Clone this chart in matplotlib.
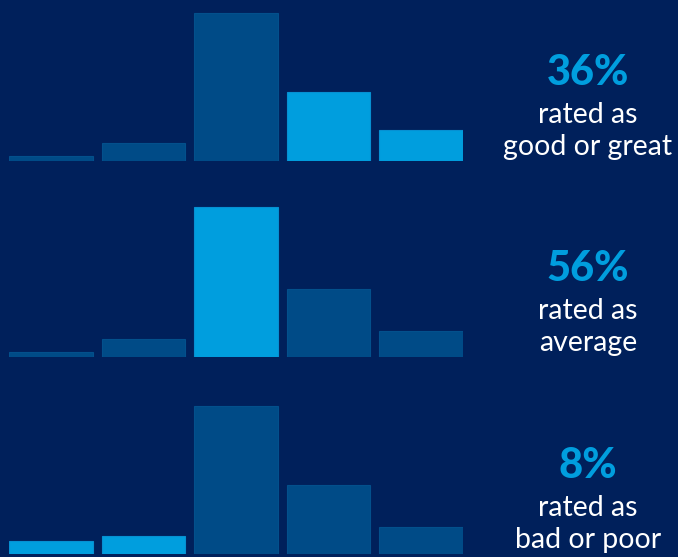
import matplotlib
matplotlib.use("Agg")
import matplotlib.pyplot as plt

# ratings 1..5, share of responses (%) per question
ratings = [1, 2, 3, 4, 5]
good_vals = [2.0, 6.8, 54.7, 25.6, 11.5]
avg_vals = [1.9, 6.8, 55.8, 25.3, 9.7]
bad_vals = [4.8, 6.7, 54.8, 25.3, 9.8]

# which bars are highlighted in each row
good_hl = [False, False, False, True, True]
avg_hl = [False, False, True, False, False]
bad_hl = [True, True, False, False, False]

pct_labels = ["36%", "56%", "8%"]
sub_labels = ["rated as\ngood or great", "rated as\naverage", "rated as\nbad or poor"]

BG = "#00205b"
DARK = "#004b87"
LIGHT = "#009ede"

W, H = 678, 557
fig = plt.figure(figsize=(W / 100, H / 100), dpi=100, facecolor=BG)

rows = [(good_vals, good_hl), (avg_vals, avg_hl), (bad_vals, bad_hl)]
baselines = [161, 357.3, 553.7]   # pixel y of each row's baseline
ax_h = 160                        # pixel height of each axes
px_per_pct = 2.7

for i, (vals, hl) in enumerate(rows):
    base = baselines[i]
    ax = fig.add_axes([9 / W, (H - base) / H, 454 / W, ax_h / H])
    ax.set_facecolor(BG)
    colors = [LIGHT if h else DARK for h in hl]
    edges = ["#0690d2" if h else "#03508c" for h in hl]
    ax.bar(range(len(ratings)), vals, width=0.905, color=colors,
           edgecolor=edges, linewidth=0.8)
    ax.set_xlim(-0.4525, 4.4525)
    ax.set_ylim(0, ax_h / px_per_pct)
    ax.axis("off")

    cx = 588 / W
    fig.text(cx, (H - (base - 76)) / H, pct_labels[i], color=LIGHT,
             fontsize=30, fontweight="black", family="Lato",
             ha="center", va="baseline")
    line1, line2 = sub_labels[i].split("\n")
    fig.text(cx, (H - (base - 38)) / H, line1, color="white",
             fontsize=20.5, family="Lato", ha="center", va="baseline")
    fig.text(cx, (H - (base - 6)) / H, line2, color="white",
             fontsize=20.5, family="Lato", ha="center", va="baseline")

fig.savefig("out.png", dpi=100, facecolor=BG)
